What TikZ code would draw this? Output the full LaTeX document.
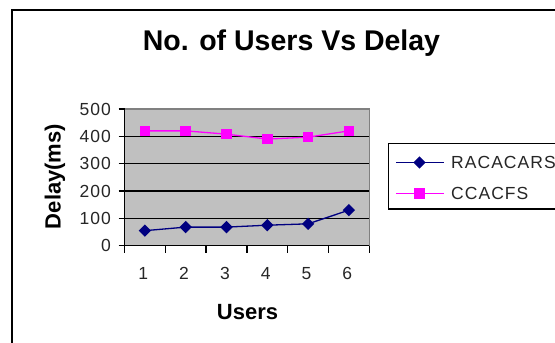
\documentclass[tikz,border=0pt]{standalone}
\usepackage{fontspec}
\setmainfont{Liberation Sans}
\newfontfamily\chartfont[LetterSpace=6]{Liberation Sans}
\usetikzlibrary{shapes.geometric}
\definecolor{navyline}{RGB}{0,0,128}
\definecolor{magline}{RGB}{255,0,255}
\definecolor{plotgray}{RGB}{192,192,192}
\definecolor{bordergray}{RGB}{128,128,128}
\begin{document}
\begin{tikzpicture}[x=1pt,y=-1pt,
  ticklabel/.style={font=\chartfont\fontsize{17.5}{18}\selectfont, inner sep=0pt, text=black!85},
  axislabel/.style={font=\fontsize{22}{24}\selectfont\bfseries, inner sep=0pt},
  gridline/.style={black, line width=1.4pt},
  axisline/.style={black, line width=1.3pt},
  dmark/.style={diamond, fill=navyline, inner sep=0pt, minimum width=12.5pt, minimum height=12.5pt},
  smark/.style={rectangle, fill=magline, inner sep=0pt, minimum size=10.5pt},
  dline/.style={navyline, line width=1.3pt},
  sline/.style={magline, line width=1.3pt}]
\useasboundingbox (0,0) rectangle (555,343);
\fill[white] (0,0) rectangle (555,343);
% outer chart frame (runs off the page on the right and bottom)
\draw[line width=2pt] (12,350) -- (12,10) -- (560,10);
% title
\node[font=\fontsize{28.5}{30}\selectfont\bfseries, inner sep=0pt] (title) at (291.5,43.5) {No. of Users Vs Delay};
% plot area
\def\xl{124.5}\def\xr{369.3}\def\yz{245.7}\def\ys{0.2734}
\fill[plotgray] (\xl,109) rectangle (\xr,\yz);
\draw[bordergray, line width=1.4pt] (\xl,109) -- (\xr,109) -- (\xr,\yz);
\foreach \v in {100,200,300,400}
  \draw[gridline] (\xl,\yz-\v*\ys) -- (\xr,\yz-\v*\ys);
% axes and ticks
\draw[axisline] (\xl,109) -- (\xl,\yz) -- (\xr,\yz);
\foreach \v in {0,100,...,500}{
  \draw[axisline] (\xl-6,\yz-\v*\ys) -- (\xl,\yz-\v*\ys);
  \node[ticklabel, anchor=east] (yl\v) at (111,\yz-\v*\ys) {\v};
}
\foreach \k in {0,...,6}
  \draw[axisline] (\xl+\k*40.8,\yz) -- (\xl+\k*40.8,\yz+7);
\foreach \k in {1,...,6}
  \node[ticklabel] (xl\k) at (\xl+\k*40.8-22,273.5) {\k};
% axis titles
\node[axislabel] (xtitle) at (247.5,312) {Users};
\node[axislabel, rotate=90] (ytitle) at (55,176.5) {Delay(ms)};
% data points
\foreach \i/\a/\b in {1/55/420, 2/68/420, 3/68/408, 4/75/390, 5/80/397, 6/130/420}{
  \coordinate (r\i) at (\xl+\i*40.8-20.4,\yz-\a*\ys);
  \coordinate (c\i) at (\xl+\i*40.8-20.4,\yz-\b*\ys);
}
\draw[dline] (r1) -- (r2) -- (r3) -- (r4) -- (r5) -- (r6);
\draw[sline] (c1) -- (c2) -- (c3) -- (c4) -- (c5) -- (c6);
\foreach \i in {1,...,6}{
  \node[dmark] (rm\i) at (r\i) {};
  \node[smark] (cm\i) at (c\i) {};
}
% legend
\draw[line width=1.3pt] (388.5,143.5) rectangle (565,209);
\coordinate (la1) at (396,162.5);
\coordinate (lb1) at (444,162.5);
\coordinate (la2) at (396,193.5);
\coordinate (lb2) at (444,193.5);
\draw[dline] (la1) -- (lb1);
\draw[sline] (la2) -- (lb2);
\node[dmark] (lm1) at (419.5,162.5) {};
\node[smark] (lm2) at (419.5,193.5) {};
\node[ticklabel, anchor=west] (lt1) at (451,162.5) {RACACARS};
\node[ticklabel, anchor=west] (lt2) at (451,193.5) {CCACFS};
\end{tikzpicture}
\end{document}
